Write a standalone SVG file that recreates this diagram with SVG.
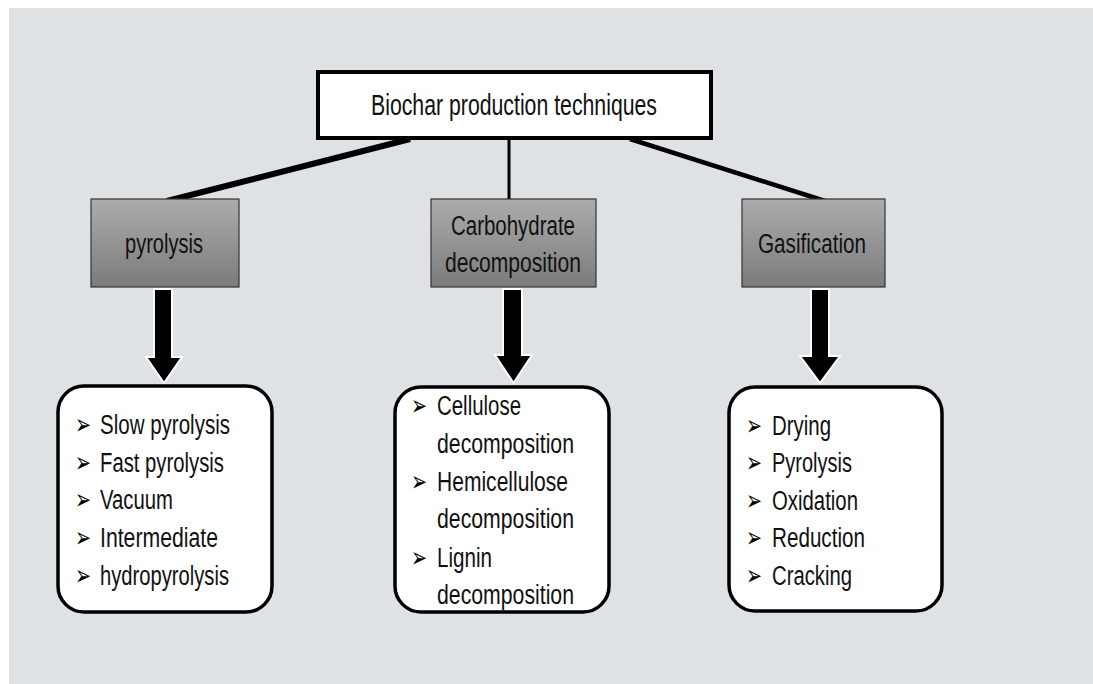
<svg xmlns="http://www.w3.org/2000/svg" width="1093" height="684" viewBox="0 0 1093 684">
<defs>
<linearGradient id="gray" x1="0" y1="0" x2="0" y2="1">
<stop offset="0" stop-color="#acacac"/>
<stop offset="1" stop-color="#7b7b7b"/>
</linearGradient>
<style>
.t{font-family:"Liberation Sans",Arial,sans-serif;fill:#111;}
.title{font-size:30px;}
.lab{font-size:27px;}
.li{font-size:27px;}
.bul{font-family:"DejaVu Sans",sans-serif;font-size:28px;fill:#000;}
.cat{fill:url(#gray);stroke:#333;stroke-width:1.2;}
.list{fill:#fff;stroke:#000;stroke-width:3.5;}
.barrow{fill:#000;stroke:#fff;stroke-width:2;stroke-linejoin:miter;}
.conn{stroke:#000;fill:none;}
</style>
</defs>
<rect x="0" y="0" width="1093" height="684" fill="#ffffff"/>
<rect x="9" y="8" width="1084" height="676" fill="#dfe2e5"/>

<g id="connectors">
<line class="conn" x1="410" y1="139" x2="167" y2="201" stroke-width="6"/>
<line class="conn" x1="509" y1="140" x2="509" y2="199" stroke-width="3"/>
<line class="conn" x1="630" y1="139" x2="825" y2="201" stroke-width="4.5"/>
<polygon class="barrow" points="154,289 172,289 172,357 182,357 164,383 146,357 154,357"/>
<polygon class="barrow" points="503,289 522,289 522,355 532,355 513.5,383 495,355 503,355"/>
<polygon class="barrow" points="811,289 829,289 829,356 840,356 820,383 800,356 811,356"/>
</g>

<g id="root">
<rect x="318" y="72" width="393" height="66" fill="#fff" stroke="#000" stroke-width="4"/>
<text class="t title" x="514" y="115" text-anchor="middle" textLength="286" lengthAdjust="spacingAndGlyphs">Biochar production techniques</text>
</g>

<g id="pyrolysis">
<rect class="cat" x="91" y="199" width="148" height="88"/>
<text class="t lab" x="164" y="253" text-anchor="middle" textLength="78" lengthAdjust="spacingAndGlyphs">pyrolysis</text>
</g>

<g id="carbohydrate">
<rect class="cat" x="431" y="199" width="165" height="88"/>
<text class="t lab" x="513" y="235" text-anchor="middle" textLength="124" lengthAdjust="spacingAndGlyphs">Carbohydrate</text>
<text class="t lab" x="513" y="272" text-anchor="middle" textLength="136" lengthAdjust="spacingAndGlyphs">decomposition</text>
</g>

<g id="gasification">
<rect class="cat" x="742" y="199" width="143" height="88"/>
<text class="t lab" x="812" y="253" text-anchor="middle" textLength="108" lengthAdjust="spacingAndGlyphs">Gasification</text>
</g>

<g id="pyrolysis-list">
<rect class="list" x="58" y="386" width="214" height="226" rx="26" ry="26"/>
<text class="bul" x="75" y="434" textLength="16" lengthAdjust="spacingAndGlyphs">➢</text>
<text class="bul" x="75" y="472" textLength="16" lengthAdjust="spacingAndGlyphs">➢</text>
<text class="bul" x="75" y="509" textLength="16" lengthAdjust="spacingAndGlyphs">➢</text>
<text class="bul" x="75" y="547" textLength="16" lengthAdjust="spacingAndGlyphs">➢</text>
<text class="bul" x="75" y="585" textLength="16" lengthAdjust="spacingAndGlyphs">➢</text>
<text class="t li" x="100" y="434" textLength="130" lengthAdjust="spacingAndGlyphs">Slow pyrolysis</text>
<text class="t li" x="100" y="472" textLength="124" lengthAdjust="spacingAndGlyphs">Fast pyrolysis</text>
<text class="t li" x="100" y="509" textLength="73" lengthAdjust="spacingAndGlyphs">Vacuum</text>
<text class="t li" x="100" y="547" textLength="118" lengthAdjust="spacingAndGlyphs">Intermediate</text>
<text class="t li" x="100" y="585" textLength="129" lengthAdjust="spacingAndGlyphs">hydropyrolysis</text>
</g>

<g id="carbohydrate-list">
<rect class="list" x="395" y="387" width="214" height="225" rx="26" ry="26"/>
<text class="bul" x="411" y="415" textLength="16" lengthAdjust="spacingAndGlyphs">➢</text>
<text class="bul" x="411" y="491" textLength="16" lengthAdjust="spacingAndGlyphs">➢</text>
<text class="bul" x="411" y="567" textLength="16" lengthAdjust="spacingAndGlyphs">➢</text>
<text class="t li" x="437" y="415" textLength="84" lengthAdjust="spacingAndGlyphs">Cellulose</text>
<text class="t li" x="437" y="453" textLength="137" lengthAdjust="spacingAndGlyphs">decomposition</text>
<text class="t li" x="437" y="491" textLength="131" lengthAdjust="spacingAndGlyphs">Hemicellulose</text>
<text class="t li" x="437" y="528" textLength="137" lengthAdjust="spacingAndGlyphs">decomposition</text>
<text class="t li" x="437" y="567" textLength="55" lengthAdjust="spacingAndGlyphs">Lignin</text>
<text class="t li" x="437" y="604" textLength="137" lengthAdjust="spacingAndGlyphs">decomposition</text>
</g>

<g id="gasification-list">
<rect class="list" x="729" y="387" width="213" height="224" rx="26" ry="26"/>
<text class="bul" x="746" y="435" textLength="16" lengthAdjust="spacingAndGlyphs">➢</text>
<text class="bul" x="746" y="472" textLength="16" lengthAdjust="spacingAndGlyphs">➢</text>
<text class="bul" x="746" y="510" textLength="16" lengthAdjust="spacingAndGlyphs">➢</text>
<text class="bul" x="746" y="547" textLength="16" lengthAdjust="spacingAndGlyphs">➢</text>
<text class="bul" x="746" y="585" textLength="16" lengthAdjust="spacingAndGlyphs">➢</text>
<text class="t li" x="772" y="435" textLength="59" lengthAdjust="spacingAndGlyphs">Drying</text>
<text class="t li" x="772" y="472" textLength="80" lengthAdjust="spacingAndGlyphs">Pyrolysis</text>
<text class="t li" x="772" y="510" textLength="86" lengthAdjust="spacingAndGlyphs">Oxidation</text>
<text class="t li" x="772" y="547" textLength="93" lengthAdjust="spacingAndGlyphs">Reduction</text>
<text class="t li" x="772" y="585" textLength="80" lengthAdjust="spacingAndGlyphs">Cracking</text>
</g>
</svg>
